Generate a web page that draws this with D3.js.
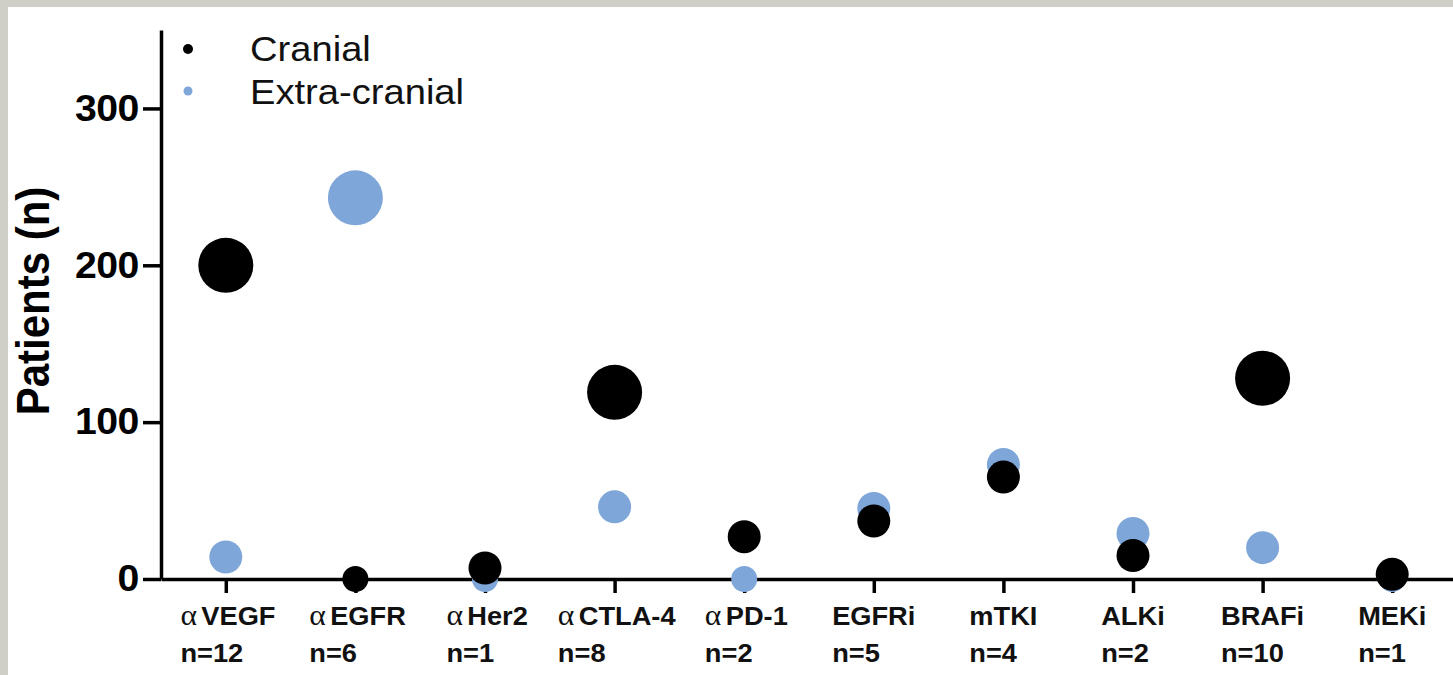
<!DOCTYPE html>
<html>
<head>
<meta charset="utf-8">
<script src="https://cdn.jsdelivr.net/npm/d3@7"></script>
<style>
  body { margin: 0; background: #fff; }
  svg { display: block; }
</style>
</head>
<body>
<div id="chart"></div>
<script>
// data
var categories = ["\u03b1VEGF", "\u03b1EGFR", "\u03b1Her2", "\u03b1CTLA-4", "\u03b1PD-1", "EGFRi", "mTKI", "ALKi", "BRAFi", "MEKi"];
var studies = [12, 6, 1, 8, 2, 5, 4, 2, 10, 1];
var cranial = [200, 0, 7, 119, 27, 37, 65, 15, 128, 3];
var extraCranial = [14, 243, 0, 46, 0, 45, 73, 29, 20, 0];
var yTicks = [0, 100, 200, 300];

var W = 1453, H = 675;
var blue = "#7ea6d9";
var sans = "Arial, 'Liberation Sans', sans-serif";
var stretch = 1.09; // the scan is a little wider than tall

var svg = d3.select("#chart").append("svg")
  .attr("width", W)
  .attr("height", H);

// grey frame of the scan
svg.append("rect").attr("width", W).attr("height", H).attr("fill", "#d0cfc7");
svg.append("rect").attr("x", 8).attr("y", 7).attr("width", W - 8).attr("height", H - 7).attr("fill", "#fff");

var x = d3.scalePoint()
  .domain(categories)
  .range([161, 1457])
  .padding(0.5);

var y = d3.scaleLinear()
  .domain([0, 350])
  .range([579, 30]);

// dot size goes by patient count band
var r = d3.scaleThreshold()
  .domain([1, 100])
  .range([13, 16.5, 27.5]);

var yAxis = d3.axisLeft(y).tickValues(yTicks).tickSize(18).tickSizeOuter(0).tickPadding(3);
var xAxis = d3.axisBottom(x).tickSize(14).tickSizeOuter(0).tickFormat("");

var gy = svg.append("g")
  .attr("transform", "translate(161,0)")
  .call(yAxis);
gy.selectAll("path, line").attr("stroke", "#000").attr("stroke-width", 3.5);
gy.selectAll("text")
  .attr("fill", "#000")
  .attr("transform", "scale(1.06,1)")
  .style("font-family", sans)
  .style("font-weight", "bold")
  .style("font-size", "37px")
  .style("letter-spacing", "-0.5px");

var gx = svg.append("g")
  .attr("transform", "translate(0,579)")
  .call(xAxis);
gx.selectAll("path, line").attr("stroke", "#000").attr("stroke-width", 3.5);

// two-line category labels, both lines start where the centred first line starts
var labels = svg.append("g")
  .style("font-family", sans)
  .style("font-weight", "bold")
  .style("font-size", "25px")
  .attr("fill", "#111");

categories.forEach(function(c, i) {
  var t1 = labels.append("text")
    .attr("text-anchor", "start");
  if (c.charAt(0) === "\u03b1") {
    t1.append("tspan")
      .style("font-family", "'Liberation Serif', 'DejaVu Serif', serif")
      .style("font-weight", "normal")
      .style("font-size", "29px")
      .text("\u03b1");
    t1.append("tspan").attr("dx", 4).text(c.slice(1));
  } else {
    t1.text(c);
  }
  var w = t1.node().getComputedTextLength() * stretch;
  var left = x(c) - w / 2;
  t1.attr("transform", "translate(" + left + ",625) scale(" + stretch + ",1)");
  labels.append("text")
    .attr("transform", "translate(" + left + ",662) scale(" + stretch + ",1)")
    .text("n=" + studies[i]);
});

svg.append("text")
  .attr("transform", "translate(49,301) rotate(-90) scale(1," + stretch + ")")
  .attr("text-anchor", "middle")
  .style("font-family", sans)
  .style("font-weight", "bold")
  .style("font-size", "42px")
  .text("Patients (n)");

// extra-cranial first so cranial sits on top
svg.append("g").selectAll("circle")
  .data(extraCranial)
  .enter().append("circle")
  .attr("cx", function(d, i) { return x(categories[i]); })
  .attr("cy", function(d) { return y(d); })
  .attr("r", function(d) { return r(d); })
  .attr("fill", blue);

svg.append("g").selectAll("circle")
  .data(cranial)
  .enter().append("circle")
  .attr("cx", function(d, i) { return x(categories[i]); })
  .attr("cy", function(d) { return y(d); })
  .attr("r", function(d) { return r(d); })
  .attr("fill", "#000");

// legend
var legend = svg.append("g")
  .style("font-family", sans)
  .style("font-size", "35px")
  .attr("fill", "#111");
legend.append("circle").attr("cx", 188).attr("cy", 49).attr("r", 5).attr("fill", "#000");
legend.append("circle").attr("cx", 188).attr("cy", 91).attr("r", 4.5).attr("fill", blue);
legend.append("text").attr("transform", "translate(250,61) scale(" + stretch + ",1)").text("Cranial");
legend.append("text").attr("transform", "translate(250,104) scale(" + stretch + ",1)").text("Extra-cranial");
</script>
</body>
</html>
